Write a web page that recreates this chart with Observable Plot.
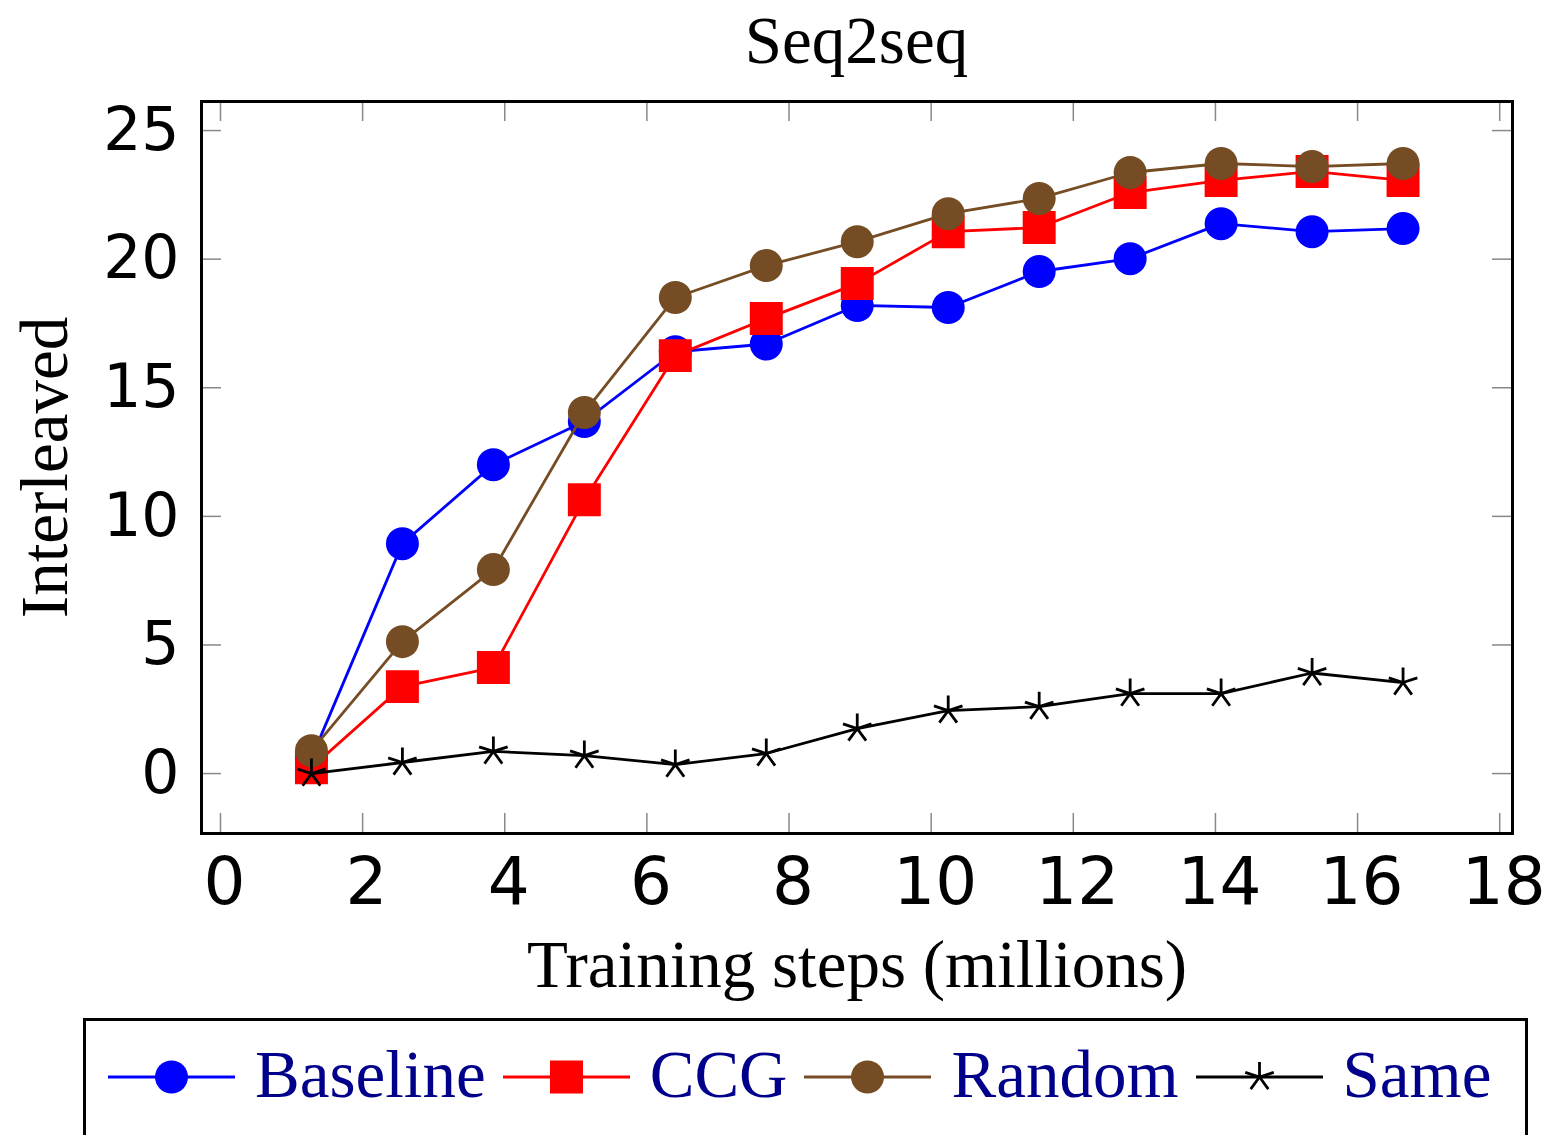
<!DOCTYPE html>
<html>
<head>
<meta charset="utf-8">
<script src="https://cdn.jsdelivr.net/npm/d3@7"></script>
<script src="https://cdn.jsdelivr.net/npm/@observablehq/plot@0.6"></script>
<style>
  html, body { margin: 0; padding: 0; background: #fff; }
  #page { position: relative; width: 1545px; height: 1135px; overflow: hidden; background: #fff; }
  #title { position: absolute; left: 201px; width: 1311px; top: 0; height: 80px; line-height: 80px;
           text-align: center; font-family: "Liberation Serif", "Times New Roman", serif; font-size: 67px; color: #000; }
  #chart { position: absolute; left: 0; top: 80px; }
  #legend { position: absolute; left: 83px; top: 1018px; width: 1445px; height: 160px;
            border: 3px solid #000; box-sizing: border-box; display: flex; align-items: flex-start;
            padding-left: 22px; padding-top: 20px; }
  .lg-item { display: flex; align-items: flex-start; }
  .lg-item svg { display: block; margin-right: 20px; }
  .lg-text { font-family: "Liberation Serif", "Times New Roman", serif; font-size: 67px; line-height: 67px;
             color: #00008B; margin-right: 17px; white-space: nowrap; }
</style>
</head>
<body>
<div id="page">
  <div id="title">Seq2seq</div>
  <div id="chart"></div>
  <div id="legend"></div>
</div>
<script>
// ---- data ----
const steps    = [1.28, 2.56, 3.84, 5.12, 6.4, 7.68, 8.96, 10.24, 11.52, 12.8, 14.08, 15.36, 16.64];
const baseline = [0.6, 8.94, 12.01, 13.69, 16.4, 16.7, 18.2, 18.12, 19.52, 20.02, 21.38, 21.07, 21.19];
const ccg      = [0.23, 3.38, 4.12, 10.65, 16.25, 17.69, 19.05, 21.07, 21.23, 22.59, 23.06, 23.41, 23.06];
const random   = [0.89, 5.13, 7.93, 14.04, 18.51, 19.75, 20.68, 21.77, 22.36, 23.37, 23.72, 23.6, 23.72];
const same     = [0.0, 0.43, 0.86, 0.7, 0.35, 0.78, 1.75, 2.45, 2.6, 3.11, 3.11, 3.91, 3.54];

const seriesNames  = ["Baseline", "CCG", "Random", "Same"];
const seriesValues = [baseline, ccg, random, same];
const seriesColors = ["#0000ff", "#ff0000", "#754c24", "#000000"];
const seriesMarks  = ["circle", "square", "circle", "star"];

const xTicks = [0, 2, 4, 6, 8, 10, 12, 14, 16, 18];
const yTicks = [0, 5, 10, 15, 20, 25];
const xLabel = "Training steps (millions)";
const yLabel = "Interleaved";

// ---- five-armed star like pgfplots "star" ----
const star5 = {
  draw(ctx, size) {
    const r = Math.sqrt(size / Math.PI);
    for (let k = 0; k < 5; k++) {
      const a = -Math.PI / 2 + k * 2 * Math.PI / 5;
      ctx.moveTo(0, 0);
      ctx.lineTo(r * Math.cos(a), r * Math.sin(a));
    }
  }
};

function markOpts(kind, color) {
  if (kind === "circle") return {symbol: "circle", r: 16.5, fill: color, stroke: "none"};
  if (kind === "square") return {symbol: "square", r: 18.6, fill: color, stroke: "none"};
  return {symbol: star5, r: 15, fill: "none", stroke: color, strokeWidth: 2.8};
}

const W = 1545, H = 930;
const mL = 201, mR = 33, mT = 21, mB = 177;
const fw = W - mL - mR, fh = H - mT - mB;
const tickLen = 20;

const serifFont = "'Liberation Serif', 'Times New Roman', serif";
const sansFont = "'DejaVu Sans', sans-serif";

const marks = [
  Plot.ruleX(xTicks, {x: d => d, stroke: "#888", strokeWidth: 1.5, insetTop: fh - tickLen}),
  Plot.ruleX(xTicks, {x: d => d, stroke: "#888", strokeWidth: 1.5, insetBottom: fh - tickLen}),
  Plot.ruleY(yTicks, {y: d => d, stroke: "#888", strokeWidth: 1.5, insetRight: fw - tickLen}),
  Plot.ruleY(yTicks, {y: d => d, stroke: "#888", strokeWidth: 1.5, insetLeft: fw - tickLen}),
];

seriesNames.forEach((name, i) => {
  const rows = steps.map((s, j) => ({x: s, y: seriesValues[i][j], series: name}));
  marks.push(Plot.line(rows, {x: "x", y: "y", stroke: seriesColors[i], strokeWidth: 2.8}));
  marks.push(Plot.dot(rows, {x: "x", y: "y", ...markOpts(seriesMarks[i], seriesColors[i])}));
});

marks.push(
  Plot.frame({stroke: "#000", strokeWidth: 3}),
  Plot.axisX(xTicks, {tickSize: 0, tickPadding: 24, dx: 4, fontSize: 66, fontFamily: sansFont, label: null}),
  Plot.axisY(yTicks, {tickSize: 0, tickPadding: 22, fontSize: 60, fontFamily: sansFont, label: null}),
  Plot.text([xLabel], {frameAnchor: "bottom", text: d => d, dy: 132, lineAnchor: "middle", textAnchor: "middle",
                       fontSize: 67, fontFamily: serifFont, fill: "#000"}),
  Plot.text([yLabel], {frameAnchor: "left", text: d => d, dx: -156, rotate: -90, lineAnchor: "middle",
                       textAnchor: "middle", fontSize: 67, fontFamily: serifFont, fill: "#000"})
);

const chart = Plot.plot({
  width: W, height: H,
  marginLeft: mL, marginRight: mR, marginTop: mT, marginBottom: mB,
  x: {domain: [-0.267, 18.18]},
  y: {domain: [-2.33, 26.13]},
  style: {fontFamily: sansFont, fontSize: "60px", background: "transparent", overflow: "visible"},
  marks
});
document.getElementById("chart").appendChild(chart);

// ---- legend ----
const legend = d3.select("#legend");
seriesNames.forEach((name, i) => {
  const item = legend.append("div").attr("class", "lg-item");
  const svg = item.append("svg").attr("width", 127).attr("height", 67);
  svg.append("line").attr("x1", 0).attr("x2", 127).attr("y1", 36).attr("y2", 36)
     .attr("stroke", seriesColors[i]).attr("stroke-width", 2.8);
  const g = svg.append("g").attr("transform", "translate(63.5,36)");
  const kind = seriesMarks[i];
  if (kind === "circle") {
    g.append("circle").attr("r", 16.5).attr("fill", seriesColors[i]);
  } else if (kind === "square") {
    g.append("rect").attr("x", -16.5).attr("y", -16.5).attr("width", 33).attr("height", 33).attr("fill", seriesColors[i]);
  } else {
    const p = d3.path();
    star5.draw(p, 15 * 15 * Math.PI);
    g.append("path").attr("d", p.toString()).attr("fill", "none").attr("stroke", seriesColors[i]).attr("stroke-width", 2.8);
  }
  item.append("div").attr("class", "lg-text").text(name);
});
</script>
</body>
</html>
